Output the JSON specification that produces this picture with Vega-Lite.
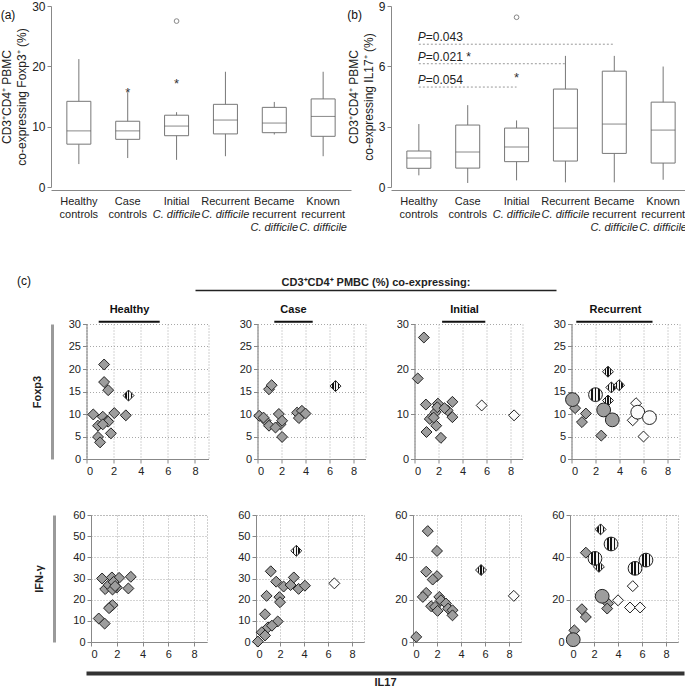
{
"$schema":"https://vega.github.io/schema/vega-lite/v6.json",
"padding":{"left":0,"top":0,"right":0,"bottom":0},
"config":{"font":"Liberation Sans","view":{"stroke":"#a0a0a0","strokeDash":[1,2]},
"axis":{"domainColor":"#888","tickColor":"#888","tickSize":4,"labelFontSize":11,"labelColor":"#222","labelPadding":2,"labelOverlap":false,"gridColor":"#a8a8a8","gridDash":[1,2],"titleFontWeight":"normal","titleColor":"#222","titleFontSize":12},
"title":{"fontSize":11,"fontWeight":"bold","color":"#111","offset":3}},
"datasets":{
"dummy":[{"v":0}],
"boxA":[
{"g":"Healthy controls","lo":3.8,"q1":7.1,"med":9.3,"q3":14.2,"hi":21.2},
{"g":"Case controls","lo":4.8,"q1":7.9,"med":9.3,"q3":10.9,"hi":15.7},
{"g":"Initial C. difficile","lo":4.5,"q1":8.5,"med":10.1,"q3":11.9,"hi":12.4},
{"g":"Recurrent C. difficile","lo":5.1,"q1":8.8,"med":11.1,"q3":13.7,"hi":19.1},
{"g":"Became recurrent C. difficile","lo":8.7,"q1":9.0,"med":10.6,"q3":13.2,"hi":14.1},
{"g":"Known recurrent C. difficile","lo":5.1,"q1":8.4,"med":11.7,"q3":14.6,"hi":19.1}],
"outA":[{"g":"Case controls","v":16.3,"k":"star"},{"g":"Initial C. difficile","v":17.8,"k":"star"},{"g":"Initial C. difficile","v":27.5,"k":"circle"}],
"boxB":[
{"g":"Healthy controls","lo":0.58,"q1":0.93,"med":1.44,"q3":1.79,"hi":3.13},
{"g":"Case controls","lo":0.2,"q1":0.94,"med":1.74,"q3":3.08,"hi":4.07},
{"g":"Initial C. difficile","lo":0.33,"q1":1.26,"med":1.99,"q3":2.93,"hi":3.31},
{"g":"Recurrent C. difficile","lo":0.23,"q1":1.29,"med":2.93,"q3":4.87,"hi":6.52},
{"g":"Became recurrent C. difficile","lo":0.23,"q1":1.67,"med":3.13,"q3":5.76,"hi":6.52},
{"g":"Known recurrent C. difficile","lo":0.36,"q1":1.19,"med":2.83,"q3":4.22,"hi":5.99}],
"outB":[{"g":"Initial C. difficile","v":5.63,"k":"star"},{"g":"Initial C. difficile","v":8.44,"k":"circle"}],
"pv":[{"a":"Healthy controls","b":"Became recurrent C. difficile","y":7.1,"t":"=0.043"},
{"a":"Healthy controls","b":"Recurrent C. difficile","y":6.13,"t":"=0.021  *"},
{"a":"Healthy controls","b":"Initial C. difficile","y":4.97,"t":"=0.054"}],
"pts":[
{"p":"Healthy","m":"F","x":1.3,"y":21.0,"f":"g","s":"d"},
{"p":"Healthy","m":"F","x":1.3,"y":17.1,"f":"g","s":"d"},
{"p":"Healthy","m":"F","x":1.6,"y":15.3,"f":"g","s":"d"},
{"p":"Healthy","m":"F","x":3.1,"y":14.1,"f":"s","s":"d"},
{"p":"Healthy","m":"F","x":0.5,"y":9.9,"f":"g","s":"d"},
{"p":"Healthy","m":"F","x":1.2,"y":9.4,"f":"g","s":"d"},
{"p":"Healthy","m":"F","x":2.05,"y":10.2,"f":"g","s":"d"},
{"p":"Healthy","m":"F","x":2.9,"y":9.7,"f":"g","s":"d"},
{"p":"Healthy","m":"F","x":0.85,"y":7.4,"f":"g","s":"d"},
{"p":"Healthy","m":"F","x":1.55,"y":8.5,"f":"g","s":"d"},
{"p":"Healthy","m":"F","x":1.6,"y":8.3,"f":"g","s":"d"},
{"p":"Healthy","m":"F","x":1.2,"y":7.7,"f":"g","s":"d"},
{"p":"Healthy","m":"F","x":1.8,"y":5.7,"f":"g","s":"d"},
{"p":"Healthy","m":"F","x":0.85,"y":4.9,"f":"g","s":"d"},
{"p":"Healthy","m":"F","x":1.0,"y":3.7,"f":"g","s":"d"},
{"p":"Healthy","m":"I","x":0.86,"y":30.0,"f":"g","s":"d"},
{"p":"Healthy","m":"I","x":1.62,"y":30.5,"f":"g","s":"d"},
{"p":"Healthy","m":"I","x":2.18,"y":30.3,"f":"g","s":"d"},
{"p":"Healthy","m":"I","x":3.09,"y":30.8,"f":"g","s":"d"},
{"p":"Healthy","m":"I","x":1.1,"y":25.0,"f":"g","s":"d"},
{"p":"Healthy","m":"I","x":2.0,"y":25.7,"f":"g","s":"d"},
{"p":"Healthy","m":"I","x":1.37,"y":26.9,"f":"g","s":"d"},
{"p":"Healthy","m":"I","x":1.75,"y":28.4,"f":"g","s":"d"},
{"p":"Healthy","m":"I","x":2.9,"y":25.3,"f":"g","s":"d"},
{"p":"Healthy","m":"I","x":1.67,"y":24.8,"f":"g","s":"d"},
{"p":"Healthy","m":"I","x":1.87,"y":26.4,"f":"g","s":"d"},
{"p":"Healthy","m":"I","x":1.5,"y":16.6,"f":"g","s":"d"},
{"p":"Healthy","m":"I","x":1.67,"y":17.4,"f":"g","s":"d"},
{"p":"Healthy","m":"I","x":1.4,"y":16.0,"f":"g","s":"d"},
{"p":"Healthy","m":"I","x":0.6,"y":11.1,"f":"g","s":"d"},
{"p":"Healthy","m":"I","x":1.06,"y":8.7,"f":"g","s":"d"},
{"p":"Case","m":"F","x":0.96,"y":15.5,"f":"g","s":"d"},
{"p":"Case","m":"F","x":1.18,"y":16.4,"f":"g","s":"d"},
{"p":"Case","m":"F","x":6.5,"y":16.2,"f":"s","s":"d"},
{"p":"Case","m":"F","x":0.14,"y":9.6,"f":"g","s":"d"},
{"p":"Case","m":"F","x":0.68,"y":8.5,"f":"g","s":"d"},
{"p":"Case","m":"F","x":0.96,"y":7.4,"f":"g","s":"d"},
{"p":"Case","m":"F","x":1.78,"y":10.0,"f":"g","s":"d"},
{"p":"Case","m":"F","x":1.92,"y":7.7,"f":"g","s":"d"},
{"p":"Case","m":"F","x":2.05,"y":4.9,"f":"g","s":"d"},
{"p":"Case","m":"F","x":1.5,"y":7.0,"f":"g","s":"d"},
{"p":"Case","m":"F","x":3.3,"y":10.3,"f":"g","s":"d"},
{"p":"Case","m":"F","x":3.7,"y":10.7,"f":"g","s":"d"},
{"p":"Case","m":"F","x":3.45,"y":9.1,"f":"g","s":"d"},
{"p":"Case","m":"F","x":4.0,"y":10.1,"f":"g","s":"d"},
{"p":"Case","m":"F","x":2.05,"y":8.5,"f":"g","s":"d"},
{"p":"Case","m":"F","x":0.5,"y":9.2,"f":"g","s":"d"},
{"p":"Case","m":"I","x":3.36,"y":43.1,"f":"s","s":"d"},
{"p":"Case","m":"I","x":6.53,"y":27.7,"f":"w","s":"d"},
{"p":"Case","m":"I","x":1.23,"y":33.4,"f":"g","s":"d"},
{"p":"Case","m":"I","x":1.68,"y":28.5,"f":"g","s":"d"},
{"p":"Case","m":"I","x":2.3,"y":26.2,"f":"g","s":"d"},
{"p":"Case","m":"I","x":3.15,"y":30.5,"f":"g","s":"d"},
{"p":"Case","m":"I","x":2.88,"y":26.9,"f":"g","s":"d"},
{"p":"Case","m":"I","x":3.55,"y":25.1,"f":"g","s":"d"},
{"p":"Case","m":"I","x":4.08,"y":26.6,"f":"g","s":"d"},
{"p":"Case","m":"I","x":0.88,"y":21.8,"f":"g","s":"d"},
{"p":"Case","m":"I","x":1.95,"y":21.2,"f":"g","s":"d"},
{"p":"Case","m":"I","x":2.0,"y":18.8,"f":"g","s":"d"},
{"p":"Case","m":"I","x":0.75,"y":13.1,"f":"g","s":"d"},
{"p":"Case","m":"I","x":1.81,"y":9.7,"f":"g","s":"d"},
{"p":"Case","m":"I","x":1.0,"y":6.9,"f":"g","s":"d"},
{"p":"Case","m":"I","x":0.48,"y":4.6,"f":"g","s":"d"},
{"p":"Case","m":"I","x":0.75,"y":3.1,"f":"g","s":"d"},
{"p":"Case","m":"I","x":0.16,"y":0.2,"f":"g","s":"d"},
{"p":"Case","m":"I","x":1.33,"y":7.7,"f":"g","s":"d"},
{"p":"Initial","m":"F","x":0.78,"y":27.0,"f":"g","s":"d"},
{"p":"Initial","m":"F","x":0.27,"y":17.9,"f":"g","s":"d"},
{"p":"Initial","m":"F","x":5.6,"y":11.9,"f":"w","s":"d"},
{"p":"Initial","m":"F","x":8.3,"y":9.7,"f":"w","s":"d"},
{"p":"Initial","m":"F","x":0.95,"y":12.1,"f":"g","s":"d"},
{"p":"Initial","m":"F","x":1.95,"y":12.3,"f":"g","s":"d"},
{"p":"Initial","m":"F","x":3.16,"y":12.7,"f":"g","s":"d"},
{"p":"Initial","m":"F","x":1.27,"y":8.9,"f":"g","s":"d"},
{"p":"Initial","m":"F","x":1.76,"y":10.4,"f":"g","s":"d"},
{"p":"Initial","m":"F","x":1.9,"y":11.5,"f":"g","s":"d"},
{"p":"Initial","m":"F","x":2.76,"y":10.8,"f":"g","s":"d"},
{"p":"Initial","m":"F","x":3.16,"y":9.3,"f":"g","s":"d"},
{"p":"Initial","m":"F","x":1.0,"y":6.0,"f":"g","s":"d"},
{"p":"Initial","m":"F","x":1.81,"y":7.4,"f":"g","s":"d"},
{"p":"Initial","m":"F","x":2.2,"y":4.7,"f":"g","s":"d"},
{"p":"Initial","m":"F","x":1.6,"y":9.2,"f":"g","s":"d"},
{"p":"Initial","m":"F","x":2.5,"y":11.3,"f":"g","s":"d"},
{"p":"Initial","m":"I","x":1.23,"y":52.4,"f":"g","s":"d"},
{"p":"Initial","m":"I","x":2.0,"y":43.0,"f":"g","s":"d"},
{"p":"Initial","m":"I","x":5.67,"y":34.0,"f":"s","s":"d"},
{"p":"Initial","m":"I","x":8.4,"y":21.8,"f":"w","s":"d"},
{"p":"Initial","m":"I","x":1.1,"y":33.2,"f":"g","s":"d"},
{"p":"Initial","m":"I","x":2.0,"y":31.1,"f":"g","s":"d"},
{"p":"Initial","m":"I","x":1.64,"y":29.5,"f":"g","s":"d"},
{"p":"Initial","m":"I","x":1.1,"y":23.2,"f":"g","s":"d"},
{"p":"Initial","m":"I","x":0.82,"y":21.3,"f":"g","s":"d"},
{"p":"Initial","m":"I","x":2.19,"y":21.3,"f":"g","s":"d"},
{"p":"Initial","m":"I","x":2.33,"y":19.7,"f":"g","s":"d"},
{"p":"Initial","m":"I","x":2.74,"y":18.2,"f":"g","s":"d"},
{"p":"Initial","m":"I","x":1.51,"y":16.9,"f":"g","s":"d"},
{"p":"Initial","m":"I","x":1.84,"y":16.6,"f":"g","s":"d"},
{"p":"Initial","m":"I","x":2.05,"y":14.7,"f":"g","s":"d"},
{"p":"Initial","m":"I","x":2.93,"y":15.8,"f":"g","s":"d"},
{"p":"Initial","m":"I","x":3.29,"y":15.0,"f":"g","s":"d"},
{"p":"Initial","m":"I","x":3.29,"y":12.6,"f":"g","s":"d"},
{"p":"Initial","m":"I","x":0.27,"y":2.4,"f":"g","s":"d"},
{"p":"Recurrent","m":"F","x":0.3,"y":11.3,"f":"g","s":"d"},
{"p":"Recurrent","m":"F","x":1.2,"y":10.1,"f":"g","s":"d"},
{"p":"Recurrent","m":"F","x":0.87,"y":8.2,"f":"g","s":"d"},
{"p":"Recurrent","m":"F","x":2.48,"y":5.2,"f":"g","s":"d"},
{"p":"Recurrent","m":"F","x":3.04,"y":19.4,"f":"s","s":"d"},
{"p":"Recurrent","m":"F","x":3.32,"y":15.9,"f":"s","s":"d"},
{"p":"Recurrent","m":"F","x":3.97,"y":16.4,"f":"s","s":"d"},
{"p":"Recurrent","m":"F","x":3.04,"y":13.0,"f":"s","s":"d"},
{"p":"Recurrent","m":"F","x":5.38,"y":12.4,"f":"w","s":"d"},
{"p":"Recurrent","m":"F","x":5.1,"y":8.6,"f":"w","s":"d"},
{"p":"Recurrent","m":"F","x":6.0,"y":5.0,"f":"w","s":"d"},
{"p":"Recurrent","m":"F","x":0.08,"y":13.2,"f":"g","s":"c"},
{"p":"Recurrent","m":"F","x":2.68,"y":10.9,"f":"g","s":"c"},
{"p":"Recurrent","m":"F","x":3.4,"y":8.7,"f":"g","s":"c"},
{"p":"Recurrent","m":"F","x":2.0,"y":14.3,"f":"s","s":"c"},
{"p":"Recurrent","m":"F","x":5.52,"y":10.4,"f":"w","s":"c"},
{"p":"Recurrent","m":"F","x":6.5,"y":9.2,"f":"w","s":"c"},
{"p":"Recurrent","m":"I","x":2.55,"y":53.2,"f":"s","s":"d"},
{"p":"Recurrent","m":"I","x":2.41,"y":35.5,"f":"s","s":"d"},
{"p":"Recurrent","m":"I","x":1.32,"y":42.2,"f":"g","s":"d"},
{"p":"Recurrent","m":"I","x":0.99,"y":15.5,"f":"g","s":"d"},
{"p":"Recurrent","m":"I","x":1.32,"y":11.8,"f":"g","s":"d"},
{"p":"Recurrent","m":"I","x":0.36,"y":5.5,"f":"g","s":"d"},
{"p":"Recurrent","m":"I","x":3.18,"y":18.2,"f":"g","s":"d"},
{"p":"Recurrent","m":"I","x":3.1,"y":15.8,"f":"g","s":"d"},
{"p":"Recurrent","m":"I","x":5.23,"y":26.4,"f":"w","s":"d"},
{"p":"Recurrent","m":"I","x":4.0,"y":19.7,"f":"w","s":"d"},
{"p":"Recurrent","m":"I","x":5.0,"y":16.3,"f":"w","s":"d"},
{"p":"Recurrent","m":"I","x":5.84,"y":16.3,"f":"w","s":"d"},
{"p":"Recurrent","m":"I","x":3.42,"y":46.3,"f":"s","s":"c"},
{"p":"Recurrent","m":"I","x":2.08,"y":39.5,"f":"s","s":"c"},
{"p":"Recurrent","m":"I","x":5.42,"y":34.8,"f":"s","s":"c"},
{"p":"Recurrent","m":"I","x":6.33,"y":38.7,"f":"s","s":"c"},
{"p":"Recurrent","m":"I","x":2.68,"y":21.6,"f":"g","s":"c"},
{"p":"Recurrent","m":"I","x":0.27,"y":1.1,"f":"g","s":"c"}
]},
"columns":1,"align":"none","spacing":12,
"concat":[
{"hconcat":[
{"width":300,"height":181,"view":{"stroke":null},
"title":{"text":"(a)","anchor":"start","frame":"bounds","fontWeight":"normal","fontSize":12,"dy":22,"offset":0},
"data":{"name":"boxA"},
"resolve":{"axis":{"x":"independent"}},
"layer":[
{"mark":{"type":"rule","color":"#777"},
"encoding":{"x":{"field":"g","type":"nominal","sort":null,"scale":{"domain":["Healthy controls","Case controls","Initial C. difficile","Recurrent C. difficile","Became recurrent C. difficile","Known recurrent C. difficile"],"paddingInner":0,"paddingOuter":0.07},
"axis":{"orient":"bottom","offset":3,"ticks":false,"tickSize":0,"labelPadding":5,"labelAngle":0,"labelBound":false,"labelFontSize":11,"labelLineHeight":13,"title":null,"minExtent":73,"labelExpr":"split(replace(datum.value,' C. difficile',''),' ')"}},
"y":{"field":"lo","type":"quantitative","scale":{"domain":[0,30],"nice":false},"axis":{"values":[0,10,20,30],"grid":false,"labelFontSize":12,"title":["CD3⁺CD4⁺ PBMC","co-expressing Foxp3⁺ (%)"],"titleLineHeight":15,"titlePadding":3}},
"y2":{"field":"hi"}}},
{"mark":{"type":"bar","fill":"#fff","stroke":"#777","strokeWidth":1,"size":24},
"encoding":{"x":{"field":"g","type":"nominal","axis":{"orient":"bottom","offset":3,"domain":false,"ticks":false,"tickSize":0,"labelPadding":18,"labelAngle":0,"labelBound":false,"labelFontSize":11,"labelFontStyle":"italic","title":null,"minExtent":73,"labelExpr":"(datum.value==='Initial C. difficile' || datum.value==='Recurrent C. difficile') ? 'C. difficile' : ''"}},
"y":{"field":"q1","type":"quantitative"},"y2":{"field":"q3"}}},
{"mark":{"type":"tick","color":"#555","size":24,"thickness":1},
"encoding":{"x":{"field":"g","type":"nominal","axis":{"orient":"bottom","offset":3,"domain":false,"ticks":false,"tickSize":0,"labelPadding":31,"labelAngle":0,"labelBound":false,"labelFontSize":11,"labelFontStyle":"italic","title":null,"minExtent":73,"labelExpr":"(datum.value==='Became recurrent C. difficile' || datum.value==='Known recurrent C. difficile') ? 'C. difficile' : ''"}},"y":{"field":"med","type":"quantitative"}}},
{"data":{"name":"outA"},"transform":[{"filter":"datum.k==='star'"}],"mark":{"type":"text","text":"*","fontSize":13,"color":"#333","dy":4},
"encoding":{"x":{"field":"g","type":"nominal","axis":null},"y":{"field":"v","type":"quantitative"}}},
{"data":{"name":"outA"},"transform":[{"filter":"datum.k==='circle'"}],"mark":{"type":"point","shape":"circle","size":22,"stroke":"#555","strokeWidth":1},
"encoding":{"x":{"field":"g","type":"nominal","axis":null},"y":{"field":"v","type":"quantitative"}}}
]},
{"width":300,"height":181,"view":{"stroke":null},
"title":{"text":"(b)","anchor":"start","frame":"bounds","fontWeight":"normal","fontSize":12,"dy":22,"offset":0},
"data":{"name":"boxB"},
"resolve":{"axis":{"x":"independent"}},
"layer":[
{"mark":{"type":"rule","color":"#777"},
"encoding":{"x":{"field":"g","type":"nominal","sort":null,"scale":{"domain":["Healthy controls","Case controls","Initial C. difficile","Recurrent C. difficile","Became recurrent C. difficile","Known recurrent C. difficile"],"paddingInner":0,"paddingOuter":0.07},
"axis":{"orient":"bottom","offset":3,"ticks":false,"tickSize":0,"labelPadding":5,"labelAngle":0,"labelBound":false,"labelFontSize":11,"labelLineHeight":13,"title":null,"minExtent":73,"labelExpr":"split(replace(datum.value,' C. difficile',''),' ')"}},
"y":{"field":"lo","type":"quantitative","scale":{"domain":[0,9],"nice":false},"axis":{"values":[0,3,6,9],"grid":false,"labelFontSize":12,"title":["CD3⁺CD4⁺ PBMC","co-expressing IL17⁺ (%)"],"titleLineHeight":15,"titlePadding":3}},
"y2":{"field":"hi"}}},
{"mark":{"type":"bar","fill":"#fff","stroke":"#777","strokeWidth":1,"size":24},
"encoding":{"x":{"field":"g","type":"nominal","axis":{"orient":"bottom","offset":3,"domain":false,"ticks":false,"tickSize":0,"labelPadding":18,"labelAngle":0,"labelBound":false,"labelFontSize":11,"labelFontStyle":"italic","title":null,"minExtent":73,"labelExpr":"(datum.value==='Initial C. difficile' || datum.value==='Recurrent C. difficile') ? 'C. difficile' : ''"}},
"y":{"field":"q1","type":"quantitative"},"y2":{"field":"q3"}}},
{"mark":{"type":"tick","color":"#555","size":24,"thickness":1},
"encoding":{"x":{"field":"g","type":"nominal","axis":{"orient":"bottom","offset":3,"domain":false,"ticks":false,"tickSize":0,"labelPadding":31,"labelAngle":0,"labelBound":false,"labelFontSize":11,"labelFontStyle":"italic","title":null,"minExtent":73,"labelExpr":"(datum.value==='Became recurrent C. difficile' || datum.value==='Known recurrent C. difficile') ? 'C. difficile' : ''"}},"y":{"field":"med","type":"quantitative"}}},
{"data":{"name":"outB"},"transform":[{"filter":"datum.k==='star'"}],"mark":{"type":"text","text":"*","fontSize":13,"color":"#333","dy":4},
"encoding":{"x":{"field":"g","type":"nominal","axis":null},"y":{"field":"v","type":"quantitative"}}},
{"data":{"name":"outB"},"transform":[{"filter":"datum.k==='circle'"}],"mark":{"type":"point","shape":"circle","size":22,"stroke":"#555","strokeWidth":1},
"encoding":{"x":{"field":"g","type":"nominal","axis":null},"y":{"field":"v","type":"quantitative"}}},
{"data":{"name":"pv"},"mark":{"type":"rule","strokeDash":[2,2],"color":"#999","strokeWidth":1},
"encoding":{"x":{"field":"a","type":"nominal","axis":null},"x2":{"field":"b"},"y":{"field":"y","type":"quantitative"}}},
{"data":{"name":"pv"},"mark":{"type":"text","text":"P","fontStyle":"italic","fontSize":12,"align":"left","baseline":"alphabetic","dy":-3,"dx":-1,"color":"#222"},
"encoding":{"x":{"field":"a","type":"nominal","axis":null},"y":{"field":"y","type":"quantitative"}}},
{"data":{"name":"pv"},"mark":{"type":"text","fontSize":12,"align":"left","baseline":"alphabetic","dy":-3,"dx":7,"color":"#222"},
"encoding":{"x":{"field":"a","type":"nominal","axis":null},"y":{"field":"y","type":"quantitative"},"text":{"field":"t"}}}
]}
],"spacing":40,"bounds":"flush"},
{"width":361,"height":1,"view":{"stroke":null},
"title":{"text":"(c)","anchor":"start","frame":"bounds","fontWeight":"normal","fontSize":12,"dx":-34,"dy":12,"offset":0},
"data":{"name":"dummy"},
"mark":{"type":"point","opacity":0,"size":0},
"encoding":{
"x":{"field":"v","type":"quantitative","scale":{"domain":[0,1]},"axis":{"orient":"top","position":144,"labels":false,"ticks":false,"grid":false,"domainColor":"#222","domainWidth":1.5,"title":"CD3⁺CD4⁺ PMBC (%) co-expressing:","titleFontWeight":"bold","titleFontSize":11,"titlePadding":3}},
"y":{"field":"v","type":"quantitative","scale":{"domain":[0,1]},"axis":null}}},
{"hconcat":[
{"width":1,"height":135,"view":{"stroke":null},
"data":{"name":"dummy"},"mark":{"type":"point","opacity":0,"size":0},
"encoding":{"y":{"field":"v","type":"quantitative","scale":{"domain":[0,30]},"axis":{"orient":"left","offset":-1,"values":[15],"labelExpr":"'Foxp3'","labelAngle":270,"labelAlign":"center","labelBaseline":"bottom","labelPadding":10,"ticks":false,"tickSize":0,"grid":false,"domainColor":"#9a9a9a","domainWidth":3,"labelFontWeight":"bold","labelFontSize":11,"labelColor":"#222","title":null}}}},
{"hconcat":[
{"width":122,"height":135,"title":{"text":"Healthy","dx":-18},
"data":{"name":"pts"},"transform":[{"filter":"datum.p==='Healthy' && datum.m==='F'"}],
"resolve":{"axis":{"x":"independent","y":"independent"}},
"layer":[
{"mark":{"type":"point","filled":true,"stroke":"#222","strokeWidth":1,"opacity":1},
"encoding":{"x":{"field":"x","type":"quantitative","scale":{"domain":[0,9],"nice":false},"axis":{"values":[0,2,4,6,8],"labelOverlap":false,"title":null,"minExtent":36}},
"y":{"field":"y","type":"quantitative","scale":{"domain":[0,30],"nice":false},"axis":{"values":[0,5,10,15,20,25,30],"labelOverlap":false,"title":null}},
"shape":{"condition":{"test":"datum.s==='c'","value":"circle"},"value":"diamond"},
"size":{"condition":{"test":"datum.s==='c'","value":190},"value":120},
"fill":{"condition":[{"test":"datum.f==='s'","value":{"gradient":"linear","x1":0,"y1":0,"x2":1,"y2":0,"stops":[{"offset":0,"color":"#f2f2f2"},{"offset":0.2,"color":"#f2f2f2"},{"offset":0.2,"color":"#111"},{"offset":0.33,"color":"#111"},{"offset":0.33,"color":"#f2f2f2"},{"offset":0.45,"color":"#f2f2f2"},{"offset":0.45,"color":"#111"},{"offset":0.57,"color":"#111"},{"offset":0.57,"color":"#f2f2f2"},{"offset":0.69,"color":"#f2f2f2"},{"offset":0.69,"color":"#111"},{"offset":0.81,"color":"#111"},{"offset":0.81,"color":"#f2f2f2"},{"offset":1,"color":"#f2f2f2"}]}},{"test":"datum.f==='w'","value":"#fbfbfb"}],"value":"#9d9d9d"}}},
{"data":{"name":"dummy"},"mark":{"type":"rule","color":"#111","strokeWidth":2},
"encoding":{"x":{"datum":0.9,"axis":null},"x2":{"datum":5.4},"y":{"datum":30.5,"axis":null}}}
]},
{"width":108,"height":135,"title":{"text":"Case","dx":-18},
"data":{"name":"pts"},"transform":[{"filter":"datum.p==='Case' && datum.m==='F'"}],
"resolve":{"axis":{"x":"independent","y":"independent"}},
"layer":[
{"mark":{"type":"point","filled":true,"stroke":"#222","strokeWidth":1,"opacity":1},
"encoding":{"x":{"field":"x","type":"quantitative","scale":{"domain":[0,9],"nice":false},"axis":{"values":[0,2,4,6,8],"labelOverlap":false,"title":null,"minExtent":36}},
"y":{"field":"y","type":"quantitative","scale":{"domain":[0,30],"nice":false},"axis":{"values":[0,5,10,15,20,25,30],"labelOverlap":false,"title":null}},
"shape":{"condition":{"test":"datum.s==='c'","value":"circle"},"value":"diamond"},
"size":{"condition":{"test":"datum.s==='c'","value":190},"value":120},
"fill":{"condition":[{"test":"datum.f==='s'","value":{"gradient":"linear","x1":0,"y1":0,"x2":1,"y2":0,"stops":[{"offset":0,"color":"#f2f2f2"},{"offset":0.2,"color":"#f2f2f2"},{"offset":0.2,"color":"#111"},{"offset":0.33,"color":"#111"},{"offset":0.33,"color":"#f2f2f2"},{"offset":0.45,"color":"#f2f2f2"},{"offset":0.45,"color":"#111"},{"offset":0.57,"color":"#111"},{"offset":0.57,"color":"#f2f2f2"},{"offset":0.69,"color":"#f2f2f2"},{"offset":0.69,"color":"#111"},{"offset":0.81,"color":"#111"},{"offset":0.81,"color":"#f2f2f2"},{"offset":1,"color":"#f2f2f2"}]}},{"test":"datum.f==='w'","value":"#fbfbfb"}],"value":"#9d9d9d"}}},
{"data":{"name":"dummy"},"mark":{"type":"rule","color":"#111","strokeWidth":2},
"encoding":{"x":{"datum":1.4,"axis":null},"x2":{"datum":4.6},"y":{"datum":30.5,"axis":null}}}
]},
{"width":108,"height":135,"title":{"text":"Initial","dx":-4},
"data":{"name":"pts"},"transform":[{"filter":"datum.p==='Initial' && datum.m==='F'"}],
"resolve":{"axis":{"x":"independent","y":"independent"}},
"layer":[
{"mark":{"type":"point","filled":true,"stroke":"#222","strokeWidth":1,"opacity":1},
"encoding":{"x":{"field":"x","type":"quantitative","scale":{"domain":[0,9],"nice":false},"axis":{"values":[0,2,4,6,8],"labelOverlap":false,"title":null,"minExtent":36}},
"y":{"field":"y","type":"quantitative","scale":{"domain":[0,30],"nice":false},"axis":{"values":[0,10,20,30],"labelOverlap":false,"title":null}},
"shape":{"condition":{"test":"datum.s==='c'","value":"circle"},"value":"diamond"},
"size":{"condition":{"test":"datum.s==='c'","value":190},"value":120},
"fill":{"condition":[{"test":"datum.f==='s'","value":{"gradient":"linear","x1":0,"y1":0,"x2":1,"y2":0,"stops":[{"offset":0,"color":"#f2f2f2"},{"offset":0.2,"color":"#f2f2f2"},{"offset":0.2,"color":"#111"},{"offset":0.33,"color":"#111"},{"offset":0.33,"color":"#f2f2f2"},{"offset":0.45,"color":"#f2f2f2"},{"offset":0.45,"color":"#111"},{"offset":0.57,"color":"#111"},{"offset":0.57,"color":"#f2f2f2"},{"offset":0.69,"color":"#f2f2f2"},{"offset":0.69,"color":"#111"},{"offset":0.81,"color":"#111"},{"offset":0.81,"color":"#f2f2f2"},{"offset":1,"color":"#f2f2f2"}]}},{"test":"datum.f==='w'","value":"#fbfbfb"}],"value":"#9d9d9d"}}},
{"data":{"name":"dummy"},"mark":{"type":"rule","color":"#111","strokeWidth":2},
"encoding":{"x":{"datum":2.3,"axis":null},"x2":{"datum":5.9},"y":{"datum":30.5,"axis":null}}}
]},
{"width":108,"height":135,"title":{"text":"Recurrent","dx":-10},
"data":{"name":"pts"},"transform":[{"filter":"datum.p==='Recurrent' && datum.m==='F'"}],
"resolve":{"axis":{"x":"independent","y":"independent"}},
"layer":[
{"mark":{"type":"point","filled":true,"stroke":"#222","strokeWidth":1,"opacity":1},
"encoding":{"x":{"field":"x","type":"quantitative","scale":{"domain":[0,9],"nice":false},"axis":{"values":[0,2,4,6,8],"labelOverlap":false,"title":null,"minExtent":36}},
"y":{"field":"y","type":"quantitative","scale":{"domain":[0,30],"nice":false},"axis":{"values":[0,5,10,15,20,25,30],"labelOverlap":false,"title":null}},
"shape":{"condition":{"test":"datum.s==='c'","value":"circle"},"value":"diamond"},
"size":{"condition":{"test":"datum.s==='c'","value":190},"value":120},
"fill":{"condition":[{"test":"datum.f==='s'","value":{"gradient":"linear","x1":0,"y1":0,"x2":1,"y2":0,"stops":[{"offset":0,"color":"#f2f2f2"},{"offset":0.2,"color":"#f2f2f2"},{"offset":0.2,"color":"#111"},{"offset":0.33,"color":"#111"},{"offset":0.33,"color":"#f2f2f2"},{"offset":0.45,"color":"#f2f2f2"},{"offset":0.45,"color":"#111"},{"offset":0.57,"color":"#111"},{"offset":0.57,"color":"#f2f2f2"},{"offset":0.69,"color":"#f2f2f2"},{"offset":0.69,"color":"#111"},{"offset":0.81,"color":"#111"},{"offset":0.81,"color":"#f2f2f2"},{"offset":1,"color":"#f2f2f2"}]}},{"test":"datum.f==='w'","value":"#fbfbfb"}],"value":"#9d9d9d"}}},
{"data":{"name":"dummy"},"mark":{"type":"rule","color":"#111","strokeWidth":2},
"encoding":{"x":{"datum":0.4,"axis":null},"x2":{"datum":6.75},"y":{"datum":30.5,"axis":null}}}
]}
],"spacing":49,"bounds":"flush"}
],"spacing":34.5,"bounds":"flush"},
{"hconcat":[
{"width":1,"height":127,"view":{"stroke":null},
"data":{"name":"dummy"},"mark":{"type":"point","opacity":0,"size":0},
"encoding":{"y":{"field":"v","type":"quantitative","scale":{"domain":[0,60]},"axis":{"orient":"left","offset":-3,"values":[30],"labelExpr":"'IFN-γ'","labelAngle":270,"labelAlign":"center","labelBaseline":"bottom","labelPadding":10,"ticks":false,"tickSize":0,"grid":false,"domainColor":"#9a9a9a","domainWidth":3,"labelFontWeight":"bold","labelFontSize":11,"labelColor":"#222","title":null}}}},
{"hconcat":[
{"width":116,"height":127,
"data":{"name":"pts"},"transform":[{"filter":"datum.p==='Healthy' && datum.m==='I'"}],
"mark":{"type":"point","filled":true,"stroke":"#222","strokeWidth":1,"opacity":1},
"encoding":{"x":{"field":"x","type":"quantitative","scale":{"domain":[0,9],"nice":false},"axis":{"values":[0,2,4,6,8],"title":null}},
"y":{"field":"y","type":"quantitative","scale":{"domain":[0,60],"nice":false},"axis":{"values":[0,10,20,30,40,50,60],"title":null}},
"shape":{"condition":{"test":"datum.s==='c'","value":"circle"},"value":"diamond"},
"size":{"condition":{"test":"datum.s==='c'","value":190},"value":120},
"fill":{"condition":[{"test":"datum.f==='s'","value":{"gradient":"linear","x1":0,"y1":0,"x2":1,"y2":0,"stops":[{"offset":0,"color":"#f2f2f2"},{"offset":0.2,"color":"#f2f2f2"},{"offset":0.2,"color":"#111"},{"offset":0.33,"color":"#111"},{"offset":0.33,"color":"#f2f2f2"},{"offset":0.45,"color":"#f2f2f2"},{"offset":0.45,"color":"#111"},{"offset":0.57,"color":"#111"},{"offset":0.57,"color":"#f2f2f2"},{"offset":0.69,"color":"#f2f2f2"},{"offset":0.69,"color":"#111"},{"offset":0.81,"color":"#111"},{"offset":0.81,"color":"#f2f2f2"},{"offset":1,"color":"#f2f2f2"}]}},{"test":"datum.f==='w'","value":"#fbfbfb"}],"value":"#9d9d9d"}}},
{"width":108,"height":127,
"data":{"name":"pts"},"transform":[{"filter":"datum.p==='Case' && datum.m==='I'"}],
"mark":{"type":"point","filled":true,"stroke":"#222","strokeWidth":1,"opacity":1},
"encoding":{"x":{"field":"x","type":"quantitative","scale":{"domain":[0,9],"nice":false},"axis":{"values":[0,2,4,6,8],"title":null}},
"y":{"field":"y","type":"quantitative","scale":{"domain":[0,60],"nice":false},"axis":{"values":[0,10,20,30,40,50,60],"title":null}},
"shape":{"condition":{"test":"datum.s==='c'","value":"circle"},"value":"diamond"},
"size":{"condition":{"test":"datum.s==='c'","value":190},"value":120},
"fill":{"condition":[{"test":"datum.f==='s'","value":{"gradient":"linear","x1":0,"y1":0,"x2":1,"y2":0,"stops":[{"offset":0,"color":"#f2f2f2"},{"offset":0.2,"color":"#f2f2f2"},{"offset":0.2,"color":"#111"},{"offset":0.33,"color":"#111"},{"offset":0.33,"color":"#f2f2f2"},{"offset":0.45,"color":"#f2f2f2"},{"offset":0.45,"color":"#111"},{"offset":0.57,"color":"#111"},{"offset":0.57,"color":"#f2f2f2"},{"offset":0.69,"color":"#f2f2f2"},{"offset":0.69,"color":"#111"},{"offset":0.81,"color":"#111"},{"offset":0.81,"color":"#f2f2f2"},{"offset":1,"color":"#f2f2f2"}]}},{"test":"datum.f==='w'","value":"#fbfbfb"}],"value":"#9d9d9d"}}},
{"width":108,"height":127,
"data":{"name":"pts"},"transform":[{"filter":"datum.p==='Initial' && datum.m==='I'"}],
"mark":{"type":"point","filled":true,"stroke":"#222","strokeWidth":1,"opacity":1},
"encoding":{"x":{"field":"x","type":"quantitative","scale":{"domain":[0,9],"nice":false},"axis":{"values":[0,2,4,6,8],"title":null}},
"y":{"field":"y","type":"quantitative","scale":{"domain":[0,60],"nice":false},"axis":{"values":[0,20,40,60],"title":null}},
"shape":{"condition":{"test":"datum.s==='c'","value":"circle"},"value":"diamond"},
"size":{"condition":{"test":"datum.s==='c'","value":190},"value":120},
"fill":{"condition":[{"test":"datum.f==='s'","value":{"gradient":"linear","x1":0,"y1":0,"x2":1,"y2":0,"stops":[{"offset":0,"color":"#f2f2f2"},{"offset":0.2,"color":"#f2f2f2"},{"offset":0.2,"color":"#111"},{"offset":0.33,"color":"#111"},{"offset":0.33,"color":"#f2f2f2"},{"offset":0.45,"color":"#f2f2f2"},{"offset":0.45,"color":"#111"},{"offset":0.57,"color":"#111"},{"offset":0.57,"color":"#f2f2f2"},{"offset":0.69,"color":"#f2f2f2"},{"offset":0.69,"color":"#111"},{"offset":0.81,"color":"#111"},{"offset":0.81,"color":"#f2f2f2"},{"offset":1,"color":"#f2f2f2"}]}},{"test":"datum.f==='w'","value":"#fbfbfb"}],"value":"#9d9d9d"}}},
{"width":108,"height":127,
"data":{"name":"pts"},"transform":[{"filter":"datum.p==='Recurrent' && datum.m==='I'"}],
"mark":{"type":"point","filled":true,"stroke":"#222","strokeWidth":1,"opacity":1},
"encoding":{"x":{"field":"x","type":"quantitative","scale":{"domain":[0,9],"nice":false},"axis":{"values":[0,2,4,6,8],"title":null}},
"y":{"field":"y","type":"quantitative","scale":{"domain":[0,60],"nice":false},"axis":{"values":[0,20,40,60],"title":null}},
"shape":{"condition":{"test":"datum.s==='c'","value":"circle"},"value":"diamond"},
"size":{"condition":{"test":"datum.s==='c'","value":190},"value":120},
"fill":{"condition":[{"test":"datum.f==='s'","value":{"gradient":"linear","x1":0,"y1":0,"x2":1,"y2":0,"stops":[{"offset":0,"color":"#f2f2f2"},{"offset":0.2,"color":"#f2f2f2"},{"offset":0.2,"color":"#111"},{"offset":0.33,"color":"#111"},{"offset":0.33,"color":"#f2f2f2"},{"offset":0.45,"color":"#f2f2f2"},{"offset":0.45,"color":"#111"},{"offset":0.57,"color":"#111"},{"offset":0.57,"color":"#f2f2f2"},{"offset":0.69,"color":"#f2f2f2"},{"offset":0.69,"color":"#111"},{"offset":0.81,"color":"#111"},{"offset":0.81,"color":"#f2f2f2"},{"offset":1,"color":"#f2f2f2"}]}},{"test":"datum.f==='w'","value":"#fbfbfb"}],"value":"#9d9d9d"}}}
],"spacing":49,"bounds":"flush"}
],"spacing":39,"bounds":"flush"},
{"width":598,"height":1,"view":{"stroke":null},
"data":{"name":"dummy"},
"mark":{"type":"point","opacity":0,"size":0},
"encoding":{
"x":{"field":"v","type":"quantitative","scale":{"domain":[0,1]},"axis":{"orient":"bottom","position":35,"labels":false,"ticks":false,"grid":false,"domainColor":"#333","domainWidth":4,"title":"IL17","titleFontWeight":"bold","titleFontSize":11,"titlePadding":3}},
"y":{"field":"v","type":"quantitative","scale":{"domain":[0,1]},"axis":null}}}
]
}
